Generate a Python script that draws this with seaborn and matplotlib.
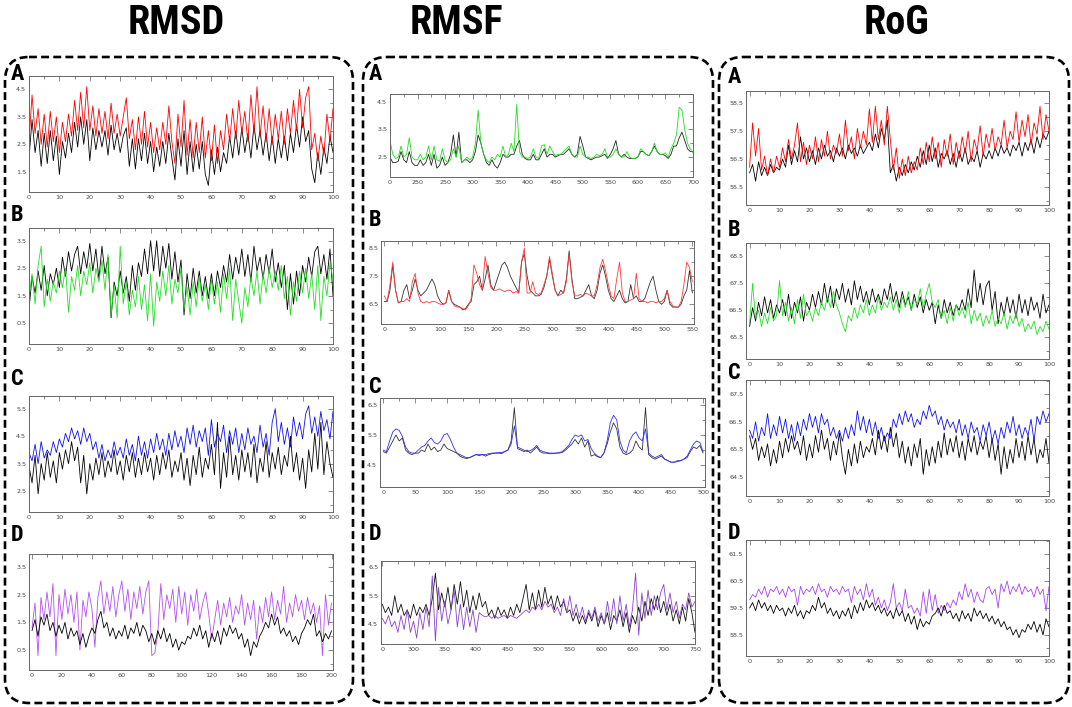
import numpy as np
import matplotlib
matplotlib.use("Agg")
import matplotlib.pyplot as plt
import seaborn as sns
from matplotlib.patches import FancyBboxPatch
from matplotlib.ticker import MultipleLocator, FixedLocator

# ---------------- data ----------------

# RMSD (time, 0-100 / 0-200)
rmsd_a_black = [2.0, 3.4, 2.2, 3.0, 1.7, 2.9, 1.8, 3.0, 1.9, 2.8, 1.4,
                2.6, 2.0, 2.9, 2.2, 3.3, 2.4, 3.5, 2.5, 3.4, 1.9,
                3.1, 2.3, 3.0, 2.4, 3.0, 2.1, 3.2, 2.3, 2.9, 2.2,
                2.8, 3.1, 1.7, 2.7, 1.6, 2.7, 1.9, 2.9, 1.8, 2.6,
                1.5, 2.4, 1.7, 2.6, 1.8, 2.9, 2.0, 1.2, 2.7, 1.7,
                3.0, 1.4, 2.6, 1.5, 2.5, 1.6, 2.6, 1.4, 1.0, 2.3,
                1.4, 2.4, 1.5, 2.2, 1.8, 2.8, 2.0, 3.0, 2.1, 3.1,
                2.2, 2.9, 2.0, 3.2, 2.3, 3.0, 2.1, 2.9, 1.9, 2.8,
                1.8, 2.7, 2.0, 2.8, 1.9, 2.9, 2.2, 3.2, 2.4, 3.5,
                2.6, 3.0, 1.6, 1.1, 2.2, 1.4, 2.4, 1.8, 2.8, 2.2]
rmsd_a_red = [2.6, 4.3, 2.9, 3.8, 2.5, 3.6, 2.4, 3.7, 2.6, 3.5, 2.2,
              3.3, 2.6, 3.6, 2.8, 4.1, 3.0, 4.4, 3.1, 4.6, 3.0,
              3.9, 2.8, 3.8, 2.9, 3.7, 2.7, 4.0, 2.9, 3.6, 2.8,
              3.5, 4.2, 2.7, 3.4, 2.3, 3.5, 2.5, 3.7, 2.4, 3.3,
              2.2, 3.1, 2.3, 3.3, 2.5, 3.9, 2.6, 1.8, 3.6, 2.4,
              4.1, 2.1, 3.4, 2.0, 3.3, 2.2, 3.5, 2.0, 3.0, 1.9,
              3.2, 1.8, 3.0, 2.3, 3.6, 2.6, 3.8, 2.7, 4.1, 2.9,
              3.7, 2.6, 4.3, 2.9, 4.6, 2.8, 3.9, 2.6, 3.8, 2.5,
              3.6, 2.7, 3.7, 2.5, 3.8, 2.9, 4.1, 3.0, 4.5, 3.1,
              4.2, 4.6, 2.3, 2.9, 1.9, 2.8, 2.1, 3.6, 2.6, 3.8]

rmsd_b_black = [1.0, 2.2, 1.6, 2.4, 1.7, 2.6, 1.5, 2.3, 1.9, 2.5, 1.8,
                2.9, 2.2, 3.1, 2.4, 3.0, 3.3, 2.3, 3.1, 2.5, 3.4,
                2.4, 3.2, 2.1, 3.3, 2.3, 2.9, 0.7, 2.0, 1.5, 2.4,
                1.6, 2.2, 1.3, 2.6, 1.7, 2.7, 2.2, 3.2, 2.3, 3.5,
                2.4, 3.5, 2.2, 3.3, 2.5, 3.4, 2.1, 3.1, 2.0, 2.8,
                0.8, 2.3, 1.4, 2.5, 1.6, 2.4, 1.5, 2.2, 1.4, 2.3,
                1.5, 2.4, 1.8, 2.6, 2.0, 3.0, 2.1, 2.9, 2.3, 3.2,
                2.2, 3.0, 2.0, 3.3, 2.4, 2.9, 2.1, 3.0, 2.3, 3.2,
                2.0, 2.7, 1.8, 2.6, 1.0, 2.3, 1.2, 2.4, 1.5, 2.6,
                2.0, 2.9, 2.2, 3.1, 3.3, 2.3, 3.0, 2.1, 3.2, 1.5]
rmsd_b_green = [1.4, 2.3, 1.2, 2.6, 3.3, 1.1, 2.1, 1.3, 2.0, 1.6, 2.4,
                1.8, 2.5, 0.9, 2.2, 1.7, 2.6, 1.5, 2.4, 1.9, 2.7,
                1.6, 2.5, 2.0, 2.8, 1.7, 3.0, 0.8, 1.9, 0.7, 3.3,
                1.2, 2.0, 0.8, 1.7, 1.1, 2.2, 1.0, 1.9, 0.6, 2.3,
                0.4, 2.0, 1.3, 2.4, 1.5, 2.6, 1.2, 2.1, 1.6, 2.5,
                1.0, 1.8, 0.8, 2.0, 1.1, 2.2, 1.3, 1.9, 1.0, 2.1,
                1.2, 2.0, 0.9, 2.3, 1.4, 2.5, 0.6, 2.1, 1.3, 0.5,
                1.8, 1.1, 2.2, 1.5, 2.4, 1.2, 2.3, 1.6, 2.5, 1.8,
                2.4, 1.7, 2.6, 1.4, 2.2, 0.8, 2.0, 1.3, 2.4, 1.6,
                2.5, 1.4, 2.3, 1.0, 2.6, 0.6, 2.2, 1.5, 2.7, 2.1]

rmsd_c_black = [3.4, 2.8, 3.8, 2.4, 3.5, 2.9, 3.9, 3.0, 3.6, 2.8, 3.9,
                3.3, 4.0, 3.5, 4.3, 3.6, 4.1, 2.8, 3.8, 2.4, 3.5,
                2.9, 3.7, 3.1, 3.9, 3.0, 3.6, 3.2, 4.0, 3.1, 3.6,
                2.9, 3.8, 3.2, 3.9, 3.0, 3.7, 3.1, 3.9, 3.2, 3.7,
                2.9, 3.8, 3.1, 3.9, 3.3, 4.0, 3.0, 3.6, 3.2, 3.9,
                2.9, 3.7, 2.7, 3.8, 3.1, 4.1, 3.0, 3.7, 3.3, 4.2,
                3.1, 5.0, 2.6, 3.9, 3.0, 4.5, 3.1, 3.8, 2.9, 4.0,
                3.2, 3.9, 3.0, 4.2, 2.8, 3.7, 3.2, 4.3, 3.0, 3.9,
                3.3, 4.1, 3.1, 3.8, 3.4, 4.5, 3.2, 3.9, 2.9, 3.7,
                2.6, 4.0, 3.2, 4.6, 3.3, 5.0, 3.1, 4.3, 3.5, 3.0]
rmsd_c_blue = [3.9, 3.6, 4.2, 3.5, 4.3, 3.7, 4.0, 3.8, 4.3, 3.9, 4.4,
               4.1, 4.6, 4.3, 4.8, 4.4, 4.7, 4.2, 4.8, 4.3, 4.6,
               4.0, 4.3, 3.7, 4.2, 3.6, 4.0, 3.7, 4.3, 3.8, 4.1,
               3.7, 4.4, 3.8, 4.2, 3.6, 4.5, 3.8, 4.3, 3.7, 4.4,
               3.9, 4.6, 4.0, 4.4, 3.8, 4.6, 4.0, 4.7, 4.1, 4.5,
               3.9, 4.8, 4.2, 4.9, 4.1, 4.7, 4.3, 4.8, 3.8, 5.1,
               4.1, 4.6, 4.3, 4.9, 3.9, 4.7, 4.2, 4.8, 3.9, 4.6,
               4.0, 4.8, 4.2, 4.5, 3.9, 4.9, 4.1, 4.6, 3.8, 5.0,
               5.5, 4.3, 5.0, 4.2, 4.8, 4.1, 5.2, 4.5, 5.0, 4.4,
               5.3, 5.6, 4.6, 5.2, 4.5, 5.4, 4.7, 5.1, 4.4, 5.4]

rmsd_d_purple = [1.3, 2.2, 0.3, 2.4, 1.6, 2.6, 1.7, 2.9, 0.3, 2.5, 1.6,
                 2.7, 1.8, 2.5, 1.5, 2.6, 0.5, 2.3, 1.7, 2.6, 2.0,
                 0.6, 2.4, 3.0, 1.8, 2.6, 1.9, 2.8, 1.7, 2.5, 3.0,
                 1.9, 2.7, 1.6, 2.6, 2.0, 2.8, 1.8, 2.6, 3.0, 0.3,
                 0.4, 1.1, 2.9, 1.6, 2.5, 2.0, 2.7, 1.5, 2.8, 1.8,
                 2.6, 1.4, 2.5, 1.9, 2.7, 1.6, 2.2, 2.6, 1.8, 0.9,
                 1.6, 2.3, 1.4, 2.2, 1.7, 2.4, 1.5, 2.1, 1.8, 2.5,
                 1.4, 2.2, 1.6, 2.3, 0.9, 2.1, 1.5, 2.4, 1.7, 2.6,
                 1.6, 2.3, 1.8, 2.8, 1.5, 2.2, 1.7, 2.5, 1.9, 2.3,
                 1.6, 2.4, 1.8, 2.2, 1.5, 2.1, 0.3, 2.5, 1.4, 2.2]
rmsd_d_black = [1.2, 1.6, 1.0, 1.7, 1.4, 1.8, 1.2, 1.5, 1.0, 1.4, 1.1,
                1.5, 0.9, 1.3, 1.0, 1.2, 0.7, 1.1, 0.6, 1.0, 1.3,
                1.1, 1.6, 1.9, 1.3, 1.5, 1.0, 1.3, 0.9, 1.2, 1.0,
                1.4, 0.9, 1.3, 1.1, 1.5, 1.0, 1.4, 1.2, 0.8, 1.1,
                0.7, 1.2, 0.9, 1.3, 0.8, 1.1, 0.6, 0.9, 0.5, 0.8,
                0.7, 1.0, 0.9, 1.3, 1.0, 1.4, 0.9, 1.2, 0.6, 1.1,
                0.8, 1.2, 0.7, 1.3, 1.0, 1.4, 1.1, 1.3, 0.9, 1.1,
                0.6, 0.9, 0.3, 0.8, 0.6, 1.0, 1.2, 1.5, 1.3, 1.8,
                1.4, 1.7, 1.1, 1.3, 1.0, 1.2, 0.8, 1.0, 0.7, 1.1,
                1.3, 1.6, 1.4, 1.8, 1.0, 1.2, 0.8, 1.1, 0.9, 1.2]

# RMSF (residue, step 5)
rmsf_a_black = [2.5, 2.3, 2.3, 2.35, 2.7, 2.4, 2.3, 2.7, 2.3, 2.2, 2.2,
                2.4, 2.2, 2.3, 2.6, 2.2, 2.6, 2.1, 2.2, 2.5, 2.2,
                2.3, 2.6, 3.3, 2.5, 3.4, 2.3, 2.4, 2.4, 2.3, 2.4,
                2.7, 3.3, 3.0, 2.6, 2.3, 2.2, 2.4, 2.2, 2.1, 2.3,
                2.6, 2.5, 2.5, 2.6, 2.6, 2.9, 3.1, 2.6, 2.45, 2.4,
                2.4, 2.6, 2.4, 2.4, 2.6, 2.8, 2.5, 2.6, 2.6, 2.5,
                2.55, 2.6, 2.6, 2.7, 2.8, 2.6, 2.5, 2.6, 3.25, 2.9,
                2.5, 2.45, 2.4, 2.45, 2.5, 2.5, 2.55, 2.6, 2.45, 2.6,
                2.8, 3.1, 2.6, 2.5, 2.6, 2.5, 2.45, 2.45, 2.45, 2.5,
                2.7, 2.7, 2.6, 2.55, 2.7, 2.9, 2.7, 2.6, 2.6, 2.55,
                2.45, 2.6, 2.9, 2.9, 3.2, 3.4, 3.1, 2.8, 2.7, 2.7]
rmsf_a_green = [3.1, 2.6, 2.45, 2.5, 2.9, 2.5, 2.6, 3.2, 2.5, 2.4, 2.4,
                2.6, 2.4, 2.5, 2.9, 2.4, 2.9, 2.4, 2.35, 2.8, 2.4,
                2.3, 2.4, 2.8, 2.5, 2.9, 2.3, 2.4, 2.5, 2.4, 2.5,
                3.0, 4.2, 3.0, 2.6, 2.4, 2.3, 2.5, 2.4, 2.6, 2.5,
                2.9, 2.5, 2.6, 3.0, 2.7, 4.4, 2.7, 2.5, 2.5, 2.45,
                2.5, 2.8, 2.5, 2.45, 2.9, 2.95, 2.6, 2.9, 2.7, 2.55,
                2.6, 2.6, 2.7, 2.8, 2.9, 2.6, 2.5, 2.5, 2.9, 2.6,
                2.5, 2.5, 2.45, 2.5, 2.6, 2.55, 2.6, 2.8, 2.5, 2.5,
                2.6, 2.8, 2.6, 2.5, 2.5, 2.7, 2.5, 2.45, 2.45, 2.5,
                2.8, 2.7, 2.6, 2.55, 2.7, 3.0, 2.7, 2.6, 2.6, 2.65,
                2.5, 2.8, 3.0, 3.3, 4.3, 4.2, 3.5, 3.0, 2.8, 2.65]
rmsf_a_labels = ["0", "250", "250", "300", "350", "400", "450", "500", "550", "600", "650", "700"]

rmsf_b_black = [6.6, 6.6, 7.0, 7.9, 7.0, 6.55, 6.6, 7.0, 7.2, 6.7, 7.0,
                7.4, 7.0, 6.8, 6.9, 7.0, 7.2, 7.4, 7.2, 6.8, 6.6,
                6.5, 6.55, 7.0, 6.6, 6.5, 6.45, 6.4, 6.3, 6.35, 6.5,
                6.6, 7.2, 7.3, 7.5, 7.0, 7.4, 7.9, 7.2, 7.0, 7.3,
                7.6, 7.9, 8.0, 7.8, 7.5, 7.3, 7.1, 6.9, 8.0, 8.3,
                7.5, 7.0, 6.9, 6.8, 6.8, 6.85, 7.1, 7.5, 8.1, 7.5,
                7.0, 6.8, 7.0, 6.9, 7.4, 8.4, 7.4, 6.7, 6.7, 6.75,
                6.8, 7.0, 7.2, 6.8, 6.7, 7.0, 7.6, 7.9, 7.5, 7.0,
                6.7, 6.6, 6.8, 7.0, 6.7, 6.55, 6.6, 7.2, 6.7, 6.8,
                6.6, 6.6, 6.7, 7.0, 7.3, 7.5, 7.0, 6.6, 6.5, 6.6,
                7.0, 6.5, 6.4, 6.4, 6.4, 6.5, 6.8, 7.0, 7.7, 6.9]
rmsf_b_red = [6.8, 6.6, 7.2, 8.0, 7.0, 6.55, 6.6, 6.6, 6.7, 6.6, 7.3,
              7.6, 6.9, 6.6, 6.55, 6.6, 6.55, 6.6, 6.6, 6.55, 6.5,
              6.5, 6.55, 7.0, 6.6, 6.45, 6.4, 6.4, 6.35, 6.3, 6.45,
              6.7, 7.9, 7.6, 7.2, 7.0, 8.2, 7.6, 7.1, 7.0, 7.0,
              7.05, 7.0, 6.95, 7.0, 7.0, 6.9, 6.95, 6.9, 8.0, 8.5,
              6.9, 6.9, 7.3, 6.9, 6.85, 6.9, 7.2, 7.5, 8.2, 7.6,
              7.0, 6.8, 6.85, 6.9, 7.3, 8.3, 7.3, 6.8, 6.8, 6.85,
              6.8, 6.9, 6.85, 6.8, 6.8, 7.2, 7.8, 8.1, 7.7, 7.2,
              6.8, 6.7, 7.4, 8.0, 6.9, 6.6, 6.6, 6.65, 6.7, 7.6,
              6.7, 6.6, 6.6, 6.55, 6.6, 6.6, 6.55, 6.6, 6.6, 6.7,
              7.0, 6.6, 6.45, 6.4, 6.4, 6.6, 7.2, 8.0, 7.8, 7.3]

rmsf_c_black = [4.95, 4.9, 5.1, 5.3, 5.5, 5.3, 5.4, 5.0, 4.9, 4.85, 4.9,
                4.9, 5.0, 4.95, 5.2, 5.0, 5.1, 4.95, 5.0, 5.2, 5.05,
                5.0, 4.95, 4.9, 4.8, 4.75, 4.72, 4.75, 4.8, 4.85, 4.82,
                4.85, 4.8, 4.85, 4.88, 4.9, 4.9, 4.88, 4.95, 5.0, 5.3,
                6.4, 5.05, 5.0, 4.95, 5.0, 4.9, 5.0, 5.1, 4.95, 4.9,
                4.9, 4.88, 4.88, 4.9, 4.9, 4.92, 5.0, 5.1, 5.2, 5.35,
                5.2, 5.4, 5.1, 5.3, 4.8, 4.85, 4.78, 4.75, 4.9, 5.2,
                5.6, 5.9, 5.7, 5.1, 4.9, 4.85, 4.9, 5.0, 5.3, 5.1,
                5.0, 6.4, 4.85, 4.75, 4.7, 4.75, 4.8, 4.7, 4.65, 4.6,
                4.6, 4.62, 4.65, 4.7, 4.75, 4.95, 5.1, 5.05, 5.15, 4.9]
rmsf_c_blue = [5.0, 4.95, 5.3, 5.6, 5.7, 5.65, 5.45, 5.1, 4.95, 4.9, 4.9,
               5.0, 5.1, 5.15, 5.3, 5.4, 5.25, 5.2, 5.3, 5.5, 5.55,
               5.35, 5.1, 4.9, 4.85, 4.8, 4.75, 4.75, 4.8, 4.85, 4.85,
               4.85, 4.85, 4.88, 4.9, 4.9, 4.92, 4.92, 4.95, 5.0, 5.2,
               5.8, 5.1, 5.05, 5.0, 4.95, 4.98, 5.05, 5.15, 5.0, 4.95,
               4.92, 4.9, 4.9, 4.9, 4.92, 4.95, 5.05, 5.15, 5.35, 5.5,
               5.45, 5.5, 5.3, 5.35, 5.05, 4.9, 4.8, 4.75, 4.9, 5.3,
               5.9, 6.15, 6.0, 5.3, 5.0, 4.9, 5.3, 5.5, 5.6, 5.4,
               5.3, 5.7, 4.9, 4.8, 4.75, 4.8, 4.85, 4.7, 4.65, 4.6,
               4.6, 4.65, 4.65, 4.7, 4.8, 5.0, 5.2, 5.3, 5.25, 4.95]

rmsf_d_black = [5.2, 4.9, 5.1, 4.8, 5.5, 4.9, 5.2, 4.8, 5.0, 4.7, 5.2,
                4.8, 5.1, 4.9, 5.2, 4.8, 5.4, 6.3, 5.0, 5.6, 5.1,
                5.8, 5.0, 5.9, 5.2, 6.0, 5.1, 5.7, 4.9, 5.5, 5.0,
                5.6, 5.1, 5.3, 4.8, 5.0, 4.7, 5.1, 4.8, 5.0, 4.7,
                5.1, 4.8, 5.2, 4.9, 5.4, 5.9, 5.0, 5.6, 5.0, 5.7,
                5.1, 5.8, 5.2, 5.5, 5.0, 5.5, 5.1, 5.3, 4.9, 5.0,
                4.6, 4.9, 4.5, 4.8, 4.5, 4.9, 4.6, 5.0, 4.4, 4.8,
                4.5, 4.9, 4.3, 4.8, 4.6, 5.0, 4.4, 4.9, 4.2, 4.8,
                4.5, 5.1, 4.6, 5.3, 4.8, 5.4, 5.0, 5.5, 4.9, 5.3,
                4.8, 5.2, 4.6, 5.0, 4.5, 5.1, 4.6, 5.4, 4.9, 4.2]
rmsf_d_purple = [4.7, 4.5, 4.8, 4.4, 4.6, 4.2, 4.8, 4.3, 5.0, 4.2, 4.6,
                 4.0, 4.9, 4.3, 5.1, 4.4, 6.2, 3.9, 5.8, 4.6, 5.3,
                 4.5, 5.0, 5.7, 4.4, 5.2, 4.3, 5.1, 4.4, 5.0, 4.2,
                 4.9, 4.8, 4.75, 4.8, 4.7, 4.8, 4.7, 4.75, 4.8, 4.7,
                 4.8, 4.75, 4.7, 4.8, 4.9, 5.0, 4.9, 5.1, 5.0, 5.2,
                 5.0, 5.3, 5.1, 5.2, 4.9, 5.1, 4.8, 5.4, 4.9, 5.5,
                 4.8, 5.2, 4.7, 5.1, 4.6, 5.0, 4.7, 5.1, 4.6, 4.9,
                 4.5, 5.3, 4.6, 5.4, 4.5, 5.5, 4.6, 5.2, 4.4, 5.0,
                 6.3, 4.1, 5.6, 4.7, 5.7, 4.8, 5.5, 5.0, 5.6, 5.9,
                 5.0, 5.6, 4.9, 5.3, 4.7, 5.2, 5.0, 5.6, 5.1, 5.3]
rmsf_d_labels = ["0", "300", "350", "400", "450", "500", "550", "600", "650", "700", "750"]

# RoG (time, 0-100)
rog_a_black = [56.0, 56.3, 55.7, 56.4, 55.9, 56.2, 55.9, 56.3, 56.0, 56.2, 56.1,
               56.5, 56.2, 57.0, 56.3, 56.8, 56.4, 57.3, 56.5, 56.9, 56.4,
               56.8, 56.3, 56.9, 56.5, 57.0, 56.6, 56.8, 56.4, 56.9, 56.6,
               56.9, 56.5, 57.0, 56.7, 56.9, 56.6, 57.0, 56.7, 56.9, 57.1,
               56.8, 57.4, 56.9, 57.6, 57.2, 57.9, 56.0, 56.3, 55.7, 56.2,
               55.9, 56.3, 56.0, 56.4, 56.1, 56.6, 56.2, 56.8, 56.3, 57.0,
               56.4, 56.9, 56.2, 56.7, 56.5, 56.8, 56.3, 56.7, 56.2, 56.8,
               56.4, 56.9, 56.3, 56.6, 56.4, 56.8, 56.2, 56.7, 56.5, 56.8,
               56.5, 56.9, 56.6, 57.0, 56.7, 56.9, 56.6, 57.0, 56.8, 57.1,
               56.6, 57.1, 56.8, 57.2, 56.7, 57.3, 56.9, 57.4, 57.2, 57.5]
rog_a_red = [56.2, 57.8, 56.6, 57.6, 56.1, 56.6, 55.9, 56.5, 56.0, 56.6, 56.2,
             56.9, 56.4, 57.2, 56.5, 57.0, 57.8, 56.4, 57.1, 56.3, 57.0,
             56.5, 57.3, 56.4, 57.2, 56.6, 57.5, 56.5, 57.0, 56.7, 57.4,
             56.6, 57.9, 56.8, 57.3, 56.5, 57.6, 56.9, 57.5, 57.0, 58.3,
             57.1, 58.4, 57.2, 57.9, 57.0, 58.4, 57.2, 56.1, 56.9, 55.8,
             56.5, 55.9, 56.6, 56.0, 56.4, 56.1, 56.9, 56.3, 57.1, 56.4,
             57.3, 56.5, 57.1, 56.2, 57.2, 56.6, 57.4, 56.3, 57.1, 56.5,
             57.3, 56.7, 57.5, 56.4, 57.2, 56.8, 57.7, 56.6, 57.4, 56.9,
             57.6, 56.8, 57.3, 57.0, 57.9, 56.9, 57.5, 57.2, 58.2, 57.1,
             57.9, 57.3, 58.1, 57.0, 57.8, 57.4, 58.4, 57.2, 58.1, 57.5]

rog_b_black = [65.9, 66.6, 66.1, 66.8, 66.3, 67.0, 66.4, 66.9, 66.2, 66.7, 66.4,
               66.9, 66.3, 67.1, 66.2, 66.8, 66.4, 67.0, 66.1, 66.8, 66.5,
               67.1, 66.6, 67.2, 66.7, 67.5, 66.8, 67.4, 66.6, 67.3, 66.9,
               67.5, 66.8, 67.3, 66.7, 67.6, 66.9, 67.4, 66.8, 67.2, 66.7,
               67.3, 66.8, 67.1, 66.7, 67.3, 66.9, 67.5, 66.8, 67.2, 66.6,
               67.2, 66.7, 67.0, 66.5, 67.1, 66.6, 67.0, 66.4, 66.9, 66.5,
               66.8, 66.0, 66.7, 66.2, 66.9, 66.4, 66.8, 66.3, 66.7, 66.5,
               66.9, 66.5, 67.3, 66.6, 68.0, 66.8, 67.5, 66.7, 67.4, 67.6,
               66.5, 67.2, 66.0, 66.8, 66.3, 67.0, 66.4, 66.9, 66.2, 67.1,
               66.4, 66.9, 66.3, 67.0, 66.5, 66.8, 66.2, 67.1, 66.4, 66.7]
rog_b_green = [66.0, 67.5, 66.2, 66.5, 65.9, 66.4, 66.0, 66.6, 66.1, 66.3, 67.6,
               66.3, 66.8, 66.1, 66.6, 66.0, 66.9, 66.2, 67.1, 66.3, 66.5,
               66.1, 66.6, 66.3, 66.8, 66.5, 67.0, 66.6, 67.2, 66.7, 66.4,
               66.0, 65.7, 66.3, 66.1, 66.6, 66.2, 66.7, 66.4, 66.9, 66.3,
               66.7, 66.4, 67.0, 66.5, 66.8, 66.6, 67.0, 66.5, 66.9, 66.4,
               67.0, 66.6, 67.2, 66.5, 66.9, 66.7, 67.3, 66.6, 67.1, 67.5,
               66.8, 66.6, 66.9, 66.2, 66.5, 66.0, 66.6, 66.1, 66.7, 66.3,
               66.6, 66.2, 66.8, 66.0, 66.5, 66.1, 66.4, 65.9, 66.3, 66.0,
               66.5, 65.9, 66.2, 66.0, 66.4, 65.8, 66.3, 66.0, 66.4, 65.9,
               66.2, 65.7, 66.0, 65.8, 66.1, 65.6, 65.9, 65.7, 66.1, 65.8]

rog_c_black = [66.0, 65.5, 65.9, 65.1, 65.6, 65.2, 65.7, 64.9, 65.5, 65.0, 65.8,
               65.2, 65.9, 65.4, 66.0, 65.5, 65.8, 65.3, 66.0, 65.1, 65.7,
               65.2, 66.0, 65.4, 66.2, 65.5, 65.9, 65.1, 65.8, 65.3, 66.1,
               65.2, 64.6, 65.5, 64.9, 65.7, 65.0, 65.8, 65.2, 65.6, 65.4,
               65.9, 65.3, 66.2, 65.5, 66.0, 65.4, 66.3, 65.6, 66.1, 65.2,
               65.8, 65.0, 65.6, 64.9, 65.7, 65.2, 65.9, 64.6, 65.5, 64.9,
               65.6, 65.0, 65.8, 65.2, 66.1, 65.3, 65.9, 65.4, 66.0, 65.2,
               65.8, 65.1, 65.9, 65.4, 66.0, 65.3, 65.8, 65.5, 66.0, 65.2,
               65.9, 65.1, 65.7, 64.6, 65.6, 64.8, 65.5, 65.0, 65.9, 65.2,
               65.8, 65.1, 66.0, 65.3, 65.9, 65.0, 65.5, 65.2, 65.9, 65.0]
rog_c_blue = [66.2, 65.9, 66.5, 65.8, 66.3, 66.0, 66.8, 65.9, 66.4, 66.0, 66.7,
              66.1, 66.6, 65.9, 66.4, 65.8, 66.5, 66.0, 66.6, 66.2, 66.8,
              66.3, 66.7, 66.1, 66.8, 66.4, 66.6, 66.0, 66.3, 65.9, 66.2,
              65.8, 66.3, 65.9, 66.4, 66.0, 66.9, 66.2, 66.7, 66.1, 66.6,
              66.0, 66.5, 65.9, 66.3, 65.8, 66.1, 65.9, 66.6, 66.3, 66.8,
              66.4, 66.9, 66.5, 66.8, 66.3, 66.6, 66.4, 66.9, 66.6, 67.1,
              66.7, 66.9, 66.4, 66.7, 66.2, 66.6, 66.3, 66.5, 66.1, 66.6,
              66.0, 66.4, 65.9, 66.5, 66.1, 66.3, 65.8, 66.4, 66.0, 66.5,
              65.8, 66.2, 65.7, 66.3, 65.9, 66.5, 66.1, 66.7, 66.0, 66.4,
              65.9, 66.3, 66.0, 66.6, 65.8, 66.7, 66.4, 66.9, 66.5, 66.8]

rog_d_purple = [59.8, 60.0, 59.9, 60.2, 60.0, 60.3, 59.9, 60.2, 60.1, 60.3, 60.0,
                60.2, 59.9, 60.3, 60.1, 60.2, 59.6, 60.3, 60.0, 60.2, 60.1,
                60.3, 60.0, 60.4, 60.1, 60.2, 59.9, 60.3, 60.1, 60.2, 60.0,
                60.3, 60.1, 60.2, 59.7, 60.3, 60.0, 60.2, 59.8, 60.4, 59.9,
                60.2, 59.6, 59.9, 59.5, 59.8, 59.4, 59.7, 60.4, 59.5, 59.7,
                59.4, 60.2, 59.5, 59.6, 59.3, 59.5, 59.2, 60.1, 59.3, 60.2,
                59.4, 60.0, 59.3, 59.6, 59.4, 59.7, 59.5, 59.8, 59.6, 60.1,
                59.8, 60.4, 59.9, 60.2, 59.7, 60.1, 59.8, 59.7, 60.2, 60.3,
                60.0, 60.2, 59.5, 60.4, 60.1, 60.5, 60.0, 60.3, 60.1, 60.4,
                60.0, 60.3, 60.1, 60.2, 59.9, 60.3, 60.0, 60.2, 59.4, 60.3]
rog_d_black = [59.5, 59.7, 59.4, 59.8, 59.5, 59.7, 59.4, 59.6, 59.3, 59.6, 59.4,
               59.5, 59.2, 59.5, 59.3, 59.6, 59.2, 59.4, 59.1, 59.4, 59.3,
               59.6, 59.4, 59.9, 59.5, 59.7, 59.3, 59.5, 59.2, 59.4, 59.1,
               59.4, 59.2, 59.5, 59.1, 59.6, 59.3, 59.7, 59.4, 59.8, 59.5,
               59.7, 59.4, 59.6, 59.3, 59.5, 59.2, 59.4, 59.1, 59.5, 59.2,
               59.4, 59.0, 59.3, 58.9, 59.2, 58.7, 59.1, 58.8, 59.0, 58.9,
               59.2, 59.3, 59.5, 59.2, 59.6, 59.3, 59.4, 59.1, 59.3, 59.0,
               59.4, 59.1, 59.3, 59.0, 59.5, 59.2, 59.4, 59.1, 59.3, 59.0,
               59.2, 58.9, 59.1, 58.8, 59.0, 58.7, 58.8, 58.5, 58.7, 58.4,
               58.7, 58.6, 58.9, 58.7, 59.0, 58.6, 58.9, 58.5, 59.1, 58.8]

column_titles = ["RMSD", "RMSF", "RoG"]
panel_letters = ["A", "B", "C", "D"]

# ---------------- figure ----------------
W, H = 1072, 707
sns.set_theme(style="white")
plt.rcParams["font.family"] = ["DejaVu Sans"]
fig = plt.figure(figsize=(W / 100, H / 100), dpi=100)

# background axes in pixel units for boxes, titles and letters
bg = fig.add_axes([0, 0, 1, 1])
bg.set_xlim(0, W)
bg.set_ylim(H, 0)
bg.axis("off")

narrow = ["Liberation Sans Narrow", "DejaVu Sans Condensed", "Roboto Condensed",
          "Open Sans Condensed", "DejaVu Sans"]
boxes = [(5, 57, 353, 703), (363, 57, 713, 703), (719, 57, 1069, 703)]
title_x = [176, 456, 896]
for (l, t, r, b), tx, title in zip(boxes, title_x, column_titles):
    bg.add_patch(FancyBboxPatch((l, t), r - l, b - t,
                                boxstyle="round,pad=0,rounding_size=24",
                                fill=False, ec="black", lw=1.9,
                                ls=(0, (3, 1.6))))
    bg.text(tx, 23, title, ha="center", va="center", fontsize=29,
            fontweight="bold", family=narrow, color="black")

letter_pos = [[(17, 74), (17, 215), (17, 379), (17, 535)],
              [(375, 74), (375, 220), (375, 387), (375, 534)],
              [(734, 77), (734, 230), (734, 373), (734, 533)]]
for col in letter_pos:
    for (lx, ly), letter in zip(col, panel_letters):
        bg.text(lx, ly, letter, ha="center", va="center", fontsize=16,
                fontweight="bold", family=narrow, color="black")


def add_panel(box, series, x_range, xlim, ylim, yticks, xticks, xlabels=None,
              xminor=None):
    l, t, r, b = box
    ax = fig.add_axes([l / W, 1 - b / H, (r - l) / W, (b - t) / H])
    for values, color in series:
        xs = np.linspace(x_range[0], x_range[1], len(values))
        sns.lineplot(x=xs, y=values, ax=ax, color=color, lw=0.6)
    ax.set_xlim(*xlim)
    ax.set_ylim(*ylim)
    ax.xaxis.set_major_locator(FixedLocator(xticks))
    if xlabels is not None:
        ax.set_xticklabels(xlabels)
    if xminor is not None:
        ax.xaxis.set_minor_locator(MultipleLocator(xminor))
    ax.yaxis.set_major_locator(FixedLocator(yticks))
    ax.yaxis.set_minor_locator(MultipleLocator(0.5))
    ax.tick_params(which="both", direction="in", top=True, right=True,
                   color="#777777", width=0.6, labelsize=4.6,
                   labelcolor="#444444", pad=2)
    ax.tick_params(which="major", length=3.5)
    ax.tick_params(which="minor", length=2)
    for s in ax.spines.values():
        s.set_color("#666666")
        s.set_linewidth(0.7)
    ax.set_xlabel("")
    ax.set_ylabel("")
    return ax


t100 = list(range(0, 101, 10))

# RMSD column
add_panel((29, 76, 333, 192), [(rmsd_a_black, "black"), (rmsd_a_red, "#ff0000")],
          (0, 100), (0, 100), (0.76, 4.99), [1.5, 2.5, 3.5, 4.5], t100, xminor=5)
add_panel((29, 228, 333, 344), [(rmsd_b_black, "black"), (rmsd_b_green, "#22e022")],
          (0, 100), (0, 100), (-0.25, 3.96), [0.5, 1.5, 2.5, 3.5], t100, xminor=5)
add_panel((29, 396, 333, 512), [(rmsd_c_black, "black"), (rmsd_c_blue, "#1010ee")],
          (0, 100), (0, 100), (1.74, 5.96), [2.5, 3.5, 4.5, 5.5], t100, xminor=5)
add_panel((29, 554, 333, 670), [(rmsd_d_purple, "#b450f0"), (rmsd_d_black, "black")],
          (0, 200), (-2, 201), (-0.22, 3.97), [0.5, 1.5, 2.5, 3.5],
          list(range(0, 201, 20)), xminor=10)

# RMSF column
add_panel((390, 94, 693, 177), [(rmsf_a_black, "#222222"), (rmsf_a_green, "#22dd22")],
          (150, 700), (150, 700), (1.78, 4.78), [2.5, 3.5, 4.5],
          list(range(150, 701, 50)), rmsf_a_labels, xminor=25)
add_panel((381, 241, 694, 324), [(rmsf_b_black, "#333333"), (rmsf_b_red, "#ff3a3a")],
          (0, 550), (-6, 553), (5.8, 8.75), [6.5, 7.5, 8.5],
          list(range(0, 551, 50)), xminor=25)
add_panel((380, 398, 705, 487), [(rmsf_c_black, "#333333"), (rmsf_c_blue, "#3030f0")],
          (0, 500), (-5, 503), (3.78, 6.72), [4.5, 5.5, 6.5],
          list(range(0, 501, 50)), xminor=25)
add_panel((381, 561, 695, 644), [(rmsf_d_black, "#111111"), (rmsf_d_purple, "#8844cc")],
          (250, 750), (248, 750), (3.79, 6.73), [4.5, 5.5, 6.5],
          list(range(250, 751, 50)), rmsf_d_labels, xminor=25)

# RoG column
add_panel((746, 91, 1049, 205), [(rog_a_black, "black"), (rog_a_red, "#ff0000")],
          (0, 100), (-1.2, 100), (54.84, 58.95), [55.5, 56.5, 57.5, 58.5], t100, xminor=5)
add_panel((746, 243, 1049, 359), [(rog_b_black, "black"), (rog_b_green, "#22e022")],
          (0, 100), (-1.2, 100), (64.69, 69.0), [65.5, 66.5, 67.5, 68.5], t100, xminor=5)
add_panel((746, 380, 1049, 496), [(rog_c_black, "black"), (rog_c_blue, "#1010ee")],
          (0, 100), (-1.2, 100), (63.81, 68.02), [64.5, 65.5, 66.5, 67.5], t100, xminor=5)
add_panel((746, 540, 1049, 656), [(rog_d_purple, "#a844f0"), (rog_d_black, "black")],
          (0, 100), (-1.2, 100), (57.72, 62.02), [58.5, 59.5, 60.5, 61.5], t100, xminor=5)

fig.savefig("out.png", dpi=100)
